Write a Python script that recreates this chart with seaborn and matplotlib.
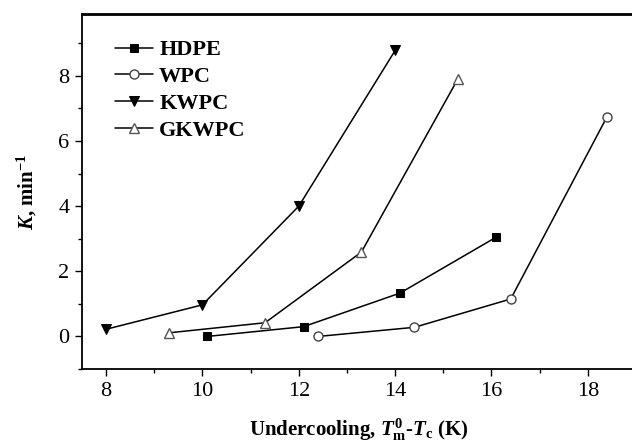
import matplotlib
matplotlib.use("Agg")
import matplotlib.pyplot as plt
import seaborn as sns
import pandas as pd
from matplotlib.ticker import MultipleLocator

hdpe_x = [10.1, 12.1, 14.1, 16.1]
hdpe_y = [0.0, 0.3, 1.33, 3.05]
wpc_x = [12.4, 14.4, 16.4, 18.4]
wpc_y = [0.0, 0.28, 1.15, 6.75]
kwpc_x = [8.0, 10.0, 12.0, 14.0]
kwpc_y = [0.22, 0.97, 4.0, 8.78]
gkwpc_x = [9.3, 11.3, 13.3, 15.3]
gkwpc_y = [0.11, 0.42, 2.59, 7.9]
names = ["HDPE", "WPC", "KWPC", "GKWPC"]

sns.set_theme(style="ticks")
plt.rcParams['font.family'] = ['Liberation Serif', 'DejaVu Serif']
plt.rcParams['mathtext.fontset'] = 'custom'
plt.rcParams['mathtext.rm'] = 'Liberation Serif:bold'
plt.rcParams['mathtext.it'] = 'Liberation Serif:italic:bold'
plt.rcParams['mathtext.bf'] = 'Liberation Serif:bold'
plt.rcParams['text.color'] = 'black'
plt.rcParams['axes.labelcolor'] = 'black'
plt.rcParams['xtick.color'] = 'black'
plt.rcParams['ytick.color'] = 'black'

fig = plt.figure(figsize=(6.32, 4.48), dpi=100)
ax = fig.add_axes([82/632, 1-369/448, (636-82)/632, (369-14)/448])

series = [
    (hdpe_x, hdpe_y, dict(marker='s', markersize=5.5, markerfacecolor='black', markeredgecolor='black')),
    (wpc_x, wpc_y, dict(marker='o', markersize=6.5, markerfacecolor='white', markeredgecolor='#444444', markeredgewidth=1.0)),
    (kwpc_x, kwpc_y, dict(marker='v', markersize=7.5, markerfacecolor='black', markeredgecolor='black')),
    (gkwpc_x, gkwpc_y, dict(marker='^', markersize=7.5, markerfacecolor='white', markeredgecolor='#555555', markeredgewidth=1.0)),
]
handles = []
for name, (xs, ys, mk) in zip(names, series):
    df = pd.DataFrame({"x": xs, "y": ys})
    sns.lineplot(data=df, x="x", y="y", ax=ax, color='black', linewidth=1.1, **mk)
    handles.append(ax.lines[-1])

ax.set_xlim(7.5, 19.0)
ax.set_ylim(-1.0, 9.9)
ax.xaxis.set_major_locator(MultipleLocator(2))
ax.xaxis.set_minor_locator(MultipleLocator(1))
ax.yaxis.set_major_locator(MultipleLocator(2))
ax.yaxis.set_minor_locator(MultipleLocator(1))
ax.tick_params(which='major', direction='out', length=5, width=1.0, labelsize=16, color='black', labelcolor='black', pad=4)
ax.tick_params(which='minor', direction='out', length=3, width=1.0, color='black')
for s in ax.spines.values():
    s.set_color('black')
    s.set_linewidth(1.3)
ax.spines['top'].set_linewidth(2.0)

ax.set_xlabel(r"Undercooling, $T^{0}_{\mathrm{m}}$-$T_{\mathrm{c}}$ (K)", fontsize=15, fontweight='bold', labelpad=12)
ax.set_ylabel(r"$K$, min$^{\mathrm{-1}}$", fontsize=15, fontweight='bold', labelpad=14)

leg = ax.legend(handles, names, loc='upper left', bbox_to_anchor=(0.035, 0.965), frameon=False,
                prop={'family': 'Liberation Serif', 'weight': 'bold', 'size': 16},
                handlelength=1.7, handletextpad=0.3, labelspacing=0.28, borderaxespad=0.2)
for t in leg.get_texts():
    t.set_color('black')

fig.savefig("out.png", dpi=100)
